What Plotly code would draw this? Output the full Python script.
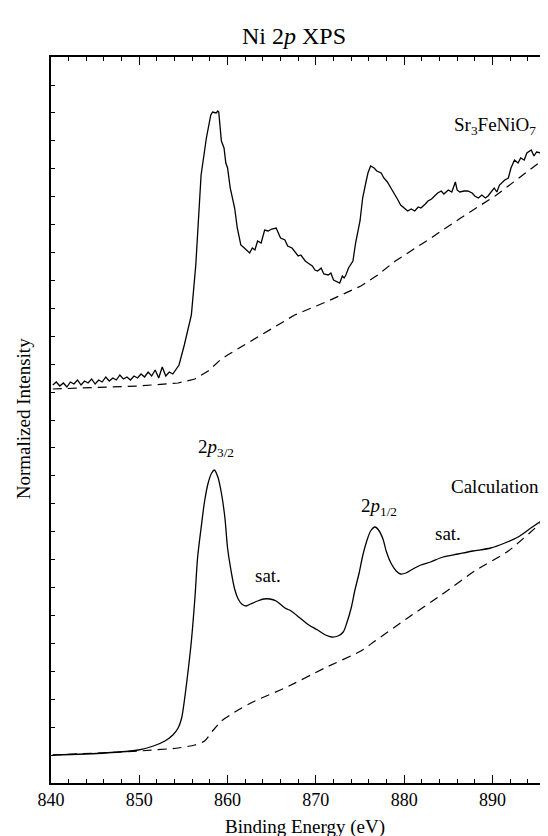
import plotly.graph_objects as go

# ---------------- data (binding energy in eV, intensity in arbitrary units) ----------------
calc_energy = [840.2, 846.1, 849.9, 851.6, 852.9, 853.8, 854.4, 854.8, 855.1, 855.5, 855.9, 856.3,
               856.6, 857.0, 857.4, 857.8, 858.2, 858.5, 858.9, 859.3, 859.7, 860.0, 860.4, 860.8,
               861.2, 861.6, 862.1, 862.6, 863.4, 864.1, 864.8, 865.5, 866.5, 867.2, 868.2, 869.2,
               870.2, 871.1, 871.8, 872.5, 873.1, 873.5, 874.0, 874.4, 874.9, 875.3, 875.8, 876.2,
               876.7, 877.1, 877.6, 878.0, 878.5, 879.1, 879.6, 880.2, 881.0, 881.9, 883.0, 884.4,
               886.1, 887.8, 889.8, 891.4, 892.9, 894.2, 895.5, 896.4, 897.2]
calc_intensity = [28, 30, 33, 37, 42, 48, 55, 65, 82, 110, 142, 185,
                  225, 255, 282, 300, 310, 313, 306, 290, 265, 235, 212, 194,
                  184, 179, 177, 179, 182, 184, 184, 182, 175, 172, 165, 158,
                  153, 148, 146, 147, 151, 160, 175, 192, 210, 227, 243, 252,
                  256, 253, 244, 231, 220, 212, 209, 210, 214, 218, 221, 226,
                  229, 232, 235, 240, 246, 254, 262, 268, 273]

calc_bg_energy = [840.2, 849.9, 854.4, 856.3, 857.4, 858.3, 859.3, 861.2, 863.1, 866.5, 871.0,
                  875.1, 876.7, 880.4, 884.2, 888.0, 891.8, 895.5, 897.2]
calc_bg_intensity = [28, 32, 35, 38, 42, 52, 62, 73, 82, 95, 115,
                     132, 142, 165, 188, 212, 232, 260, 272]

exp_energy = [840.2, 840.6, 841.0, 841.4, 841.8, 842.2, 842.6, 843.0, 843.4, 843.8, 844.2, 844.6,
              845.0, 845.4, 845.8, 846.2, 846.6, 847.0, 847.4, 847.8, 848.2, 848.6, 849.0, 849.4,
              849.8, 850.2, 850.6, 851.0, 851.4, 851.8, 852.2, 852.6, 853.0, 853.4, 853.8, 854.2,
              854.5, 855.1, 855.6, 855.9, 856.4, 857.0, 857.6, 858.1, 858.3, 858.7, 858.9, 859.0,
              859.3, 859.6, 859.8, 860.0, 860.3, 860.8, 861.1, 861.5, 861.9, 862.1, 862.3, 862.5,
              862.8, 863.1, 863.4, 863.8, 864.2, 864.6, 865.0, 865.5, 865.8, 866.0, 866.5, 866.8,
              867.3, 867.6, 868.0, 868.3, 868.8, 869.1, 869.6, 869.9, 870.2, 870.6, 870.9, 871.4,
              871.7, 872.0, 872.4, 872.7, 873.0, 873.2, 873.4, 873.7, 874.2, 874.5, 875.0, 875.3,
              875.7, 875.9, 876.2, 876.6, 876.9, 877.4, 877.7, 878.1, 878.5, 878.8, 879.3, 879.6,
              880.0, 880.4, 880.8, 881.2, 881.6, 881.9, 882.4, 882.7, 883.1, 883.5, 883.8, 884.2,
              884.5, 885.0, 885.4, 885.8, 886.0, 886.3, 886.8, 887.2, 887.7, 888.0, 888.4, 888.8,
              889.2, 889.5, 889.8, 890.2, 890.5, 890.8, 891.4, 891.8, 892.1, 892.5, 892.9, 893.2,
              893.6, 893.9, 894.4, 894.7, 895.0, 895.5, 895.8, 896.2, 896.5, 896.9, 897.2]
exp_intensity = [398, 401, 397, 400, 396, 401, 399, 403, 398, 402, 400, 404,
                 399, 403, 401, 406, 402, 405, 403, 408, 404, 406, 403, 407,
                 405, 409, 406, 411, 407, 413, 405, 416, 407, 411, 409, 414,
                 418, 438, 455, 468, 518, 608, 645, 668, 671, 670, 672, 671,
                 642, 635, 620, 615, 595, 575, 555, 538, 535, 533, 532, 530,
                 535, 533, 542, 540, 553, 552, 554, 555, 549, 545, 543, 537,
                 535, 532, 527, 528, 522, 520, 517, 513, 512, 515, 509, 508,
                 510, 503, 501, 500, 507, 505, 508, 515, 522, 540, 562, 585,
                 602, 610, 617, 615, 612, 610, 605, 601, 595, 591, 583, 578,
                 575, 572, 574, 572, 576, 575, 579, 582, 584, 587, 590, 592,
                 589, 593, 591, 601, 593, 591, 592, 592, 590, 587, 585, 588,
                 585, 587, 591, 595, 591, 598, 603, 605, 615, 623, 620, 625,
                 623, 630, 633, 627, 631, 630, 633, 637, 638, 635, 635]

exp_bg_energy = [840.2, 849.9, 854.4, 856.3, 857.8, 859.3, 860.0, 863.8, 867.6, 871.4, 875.1,
                 877.0, 879.0, 882.7, 886.4, 890.3, 894.0, 897.2]
exp_bg_intensity = [394, 397, 400, 404, 412, 424, 428, 448, 468, 482, 497,
                    508, 522, 543, 565, 587, 612, 633]

x_tick_values = [840, 850, 860, 870, 880, 890]
x_tick_labels = ["840", "850", "860", "870", "880", "890"]

# ---------------- figure ----------------
FONT = "Liberation Serif"
line_style = dict(color="black", width=1.3)

fig = go.Figure()
fig.add_trace(go.Scatter(x=exp_bg_energy, y=exp_bg_intensity, mode="lines",
                         line=dict(color="black", width=1.2, dash="9px,6px")))
fig.add_trace(go.Scatter(x=exp_energy, y=exp_intensity, mode="lines", line=line_style))
fig.add_trace(go.Scatter(x=calc_bg_energy, y=calc_bg_intensity, mode="lines",
                         line=dict(color="black", width=1.2, dash="9px,6px", shape="spline", smoothing=0.6)))
fig.add_trace(go.Scatter(x=calc_energy, y=calc_intensity, mode="lines",
                         line=dict(color="black", width=1.3, shape="spline", smoothing=0.8)))

ann_font = dict(family=FONT, size=19, color="black")
annotations = [
    dict(x=890.3, y=657, text="Sr<sub>3</sub>FeNiO<sub>7</sub>"),
    dict(x=858.7, y=335, text="2<i>p</i><sub>3/2</sub>"),
    dict(x=864.6, y=208, text="sat."),
    dict(x=877.1, y=276, text="2<i>p</i><sub>1/2</sub>"),
    dict(x=885.0, y=250, text="sat."),
    dict(x=890.3, y=297, text="Calculation"),
]
for a in annotations:
    fig.add_annotation(x=a["x"], y=a["y"], xref="x", yref="y", text=a["text"],
                       showarrow=False, font=ann_font, xanchor="center", yanchor="middle")

# title and axis titles
fig.add_annotation(x=0.481, y=1 + 21 / 726, xref="paper", yref="paper",
                   text="Ni 2<i>p</i> XPS", showarrow=False,
                   font=dict(family=FONT, size=24, color="black"), xanchor="center", yanchor="middle")
fig.add_annotation(x=0.503, y=-44 / 726, xref="paper", yref="paper",
                   text="Binding Energy (eV)", showarrow=False,
                   font=dict(family=FONT, size=19, color="black"), xanchor="center", yanchor="middle")
fig.add_annotation(x=-28 / 505, y=0.501, xref="paper", yref="paper",
                   text="Normalized Intensity", showarrow=False, textangle=-90,
                   font=dict(family=FONT, size=19, color="black"), xanchor="center", yanchor="middle")

fig.update_layout(
    width=548, height=836,
    margin=dict(l=43, r=0, t=49, b=61),
    paper_bgcolor="white", plot_bgcolor="white",
    showlegend=False,
    font=dict(family=FONT, size=18, color="black"),
    xaxis=dict(range=[840, 897.2], tickvals=x_tick_values, ticktext=x_tick_labels,
               ticks="inside", ticklen=8, tickwidth=1.2, tickcolor="black",
               minor=dict(dtick=2, tick0=840, ticks="inside", ticklen=4, tickwidth=1.1, tickcolor="black"),
               showline=True, linecolor="black", linewidth=1.5, mirror="ticks",
               showgrid=False, zeroline=False,
               tickfont=dict(family=FONT, size=18, color="black")),
    yaxis=dict(range=[0, 726], dtick=27.92, tick0=0, ticks="inside", ticklen=4, tickwidth=1.1,
               tickcolor="black", showticklabels=False,
               showline=True, linecolor="black", linewidth=1.5, mirror=False,
               showgrid=False, zeroline=False),
)

fig.write_html("out.html")
